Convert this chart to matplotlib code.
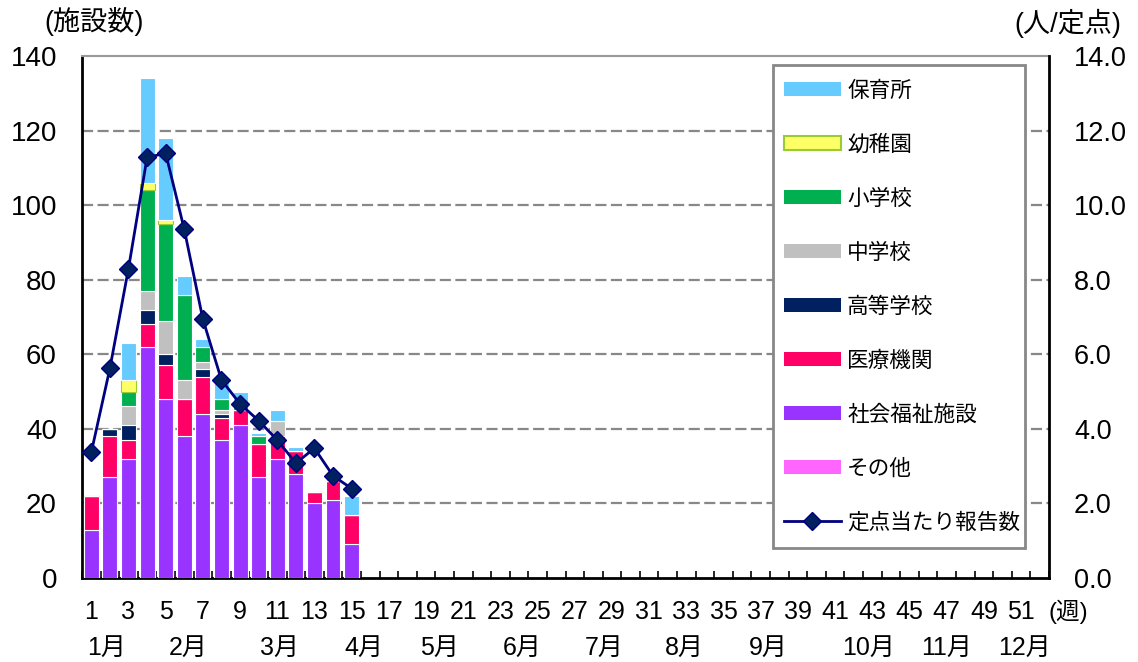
import numpy as np
import matplotlib
matplotlib.use("Agg")
import matplotlib.pyplot as plt
from matplotlib.lines import Line2D
from matplotlib.patches import Patch, Rectangle
from matplotlib.ticker import FormatStrFormatter

plt.rcParams['font.family'] = ['Liberation Sans', 'Noto Sans CJK JP']

# 週ごとの施設数（第1〜15週）
weeks = np.arange(1, 16)
hoikusho = [0, 0, 10, 28, 22, 5, 2, 5, 4, 1, 3, 1, 0, 1, 5]      # 保育所
youchien = [0, 0, 3, 2, 1, 0, 0, 0, 0, 0, 0, 0, 0, 0, 0]         # 幼稚園
shogakko = [0, 0, 4, 27, 26, 23, 4, 3, 1, 2, 0, 0, 0, 0, 0]      # 小学校
chugakko = [0, 0, 5, 5, 9, 5, 2, 1, 0, 0, 4, 0, 0, 0, 0]         # 中学校
koukou = [0, 2, 4, 4, 3, 0, 2, 1, 0, 0, 0, 0, 0, 0, 0]           # 高等学校
iryou = [9, 11, 5, 6, 9, 10, 10, 6, 4, 9, 6, 6, 3, 5, 8]         # 医療機関
fukushi = [13, 27, 32, 62, 48, 38, 44, 37, 41, 27, 32, 28, 20, 21, 9]  # 社会福祉施設
sonota = [0] * 15                                                 # その他

# 定点当たり報告数
teiten = [3.37, 5.62, 8.30, 11.28, 11.39, 9.35, 6.94, 5.31, 4.67, 4.22,
          3.70, 3.08, 3.48, 2.74, 2.40]

week_ticks = list(range(1, 52, 2))
months = ['1月', '2月', '3月', '4月', '5月', '6月', '7月', '8月', '9月',
          '10月', '11月', '12月']
month_pos = [1.8, 6.2, 11.1, 15.65, 19.7, 24.15, 28.6, 32.9, 37.4, 42.8, 47.0, 51.2]

# 積み上げ順（下から）
stack = [
    ('その他', sonota, '#FF66FF', 'white'),
    ('社会福祉施設', fukushi, '#9933FF', 'white'),
    ('医療機関', iryou, '#FF0066', 'white'),
    ('高等学校', koukou, '#002060', 'white'),
    ('中学校', chugakko, '#C0C0C0', 'white'),
    ('小学校', shogakko, '#00B050', 'white'),
    ('幼稚園', youchien, '#FFFF66', '#99CC33'),
    ('保育所', hoikusho, '#66CCFF', 'white'),
]

fig = plt.figure(figsize=(11.38, 6.62), dpi=100)
ax = fig.add_axes([82 / 1138, 84 / 662, 967 / 1138, 522 / 662])

bottom = np.zeros(len(weeks))
for name, vals, color, edge in stack:
    vals = np.array(vals, dtype=float)
    ax.bar(weeks, vals, width=0.8, bottom=bottom, color=color,
           edgecolor=edge, linewidth=0.8, zorder=3)
    bottom += vals

ax.set_xlim(0.5, 52.5)
ax.set_ylim(0, 140)
ax.set_yticks(range(0, 141, 20))
ax.tick_params(axis='y', length=0, labelsize=20, pad=18)
ax.set_xticks(week_ticks)
ax.set_xticks(np.arange(0.5, 53, 1), minor=True)
ax.tick_params(axis='x', which='major', length=0, labelsize=18, pad=16)
ax.tick_params(axis='x', which='minor', direction='in', length=5,
               width=1.2, color='black')
for y in range(20, 140, 20):
    ax.axhline(y, color='#888888', linestyle=(0, (5, 2)), linewidth=1.6, zorder=1)

for s in ['left', 'bottom']:
    ax.spines[s].set_color('black')
    ax.spines[s].set_linewidth(2)
ax.spines['top'].set_color('#999999')
ax.spines['top'].set_linewidth(1.5)
ax.spines['right'].set_visible(False)

for m, p in zip(months, month_pos):
    ax.text(p, -0.134, m, transform=ax.get_xaxis_transform(),
            ha='center', va='center', fontsize=18)
ax.text(53.55, -0.064, '(週)', transform=ax.get_xaxis_transform(),
        ha='center', va='center', fontsize=17, clip_on=False)

ax2 = ax.twinx()
ax2.plot(weeks, teiten, color='#000080', linewidth=2, marker='D',
         markersize=9, markerfacecolor='#002060', markeredgecolor='#000080',
         zorder=5)
ax2.set_ylim(0, 14)
ax2.set_yticks(np.arange(0, 14.1, 2))
ax2.yaxis.set_major_formatter(FormatStrFormatter('%.1f'))
ax2.tick_params(axis='y', length=0, labelsize=19.5, pad=18)
for s in ['left', 'bottom', 'top']:
    ax2.spines[s].set_visible(False)
ax2.spines['right'].set_color('black')
ax2.spines['right'].set_linewidth(2)

fig.text(94 / 1138, 1 - 22 / 662, '(施設数)', ha='center', va='center', fontsize=19.5)
fig.text(1068 / 1138, 1 - 23 / 662, '(人/定点)', ha='center', va='center', fontsize=19.5)

# 凡例の枠
frame = Rectangle((773 / 1138, 1 - 548 / 662), 252 / 1138, 483 / 662,
                  transform=fig.transFigure, facecolor='white',
                  edgecolor='#888888', linewidth=2, zorder=8)
ax2.add_patch(frame)

handles = []
labels = []
for name, vals, color, edge in stack[::-1]:
    lw = 1.5 if name == '幼稚園' else 0
    handles.append(Patch(facecolor=color, edgecolor=edge, linewidth=lw))
    labels.append(name)
handles.append(Line2D([0], [0], color='#000080', linewidth=2, marker='D',
                      markersize=9, markerfacecolor='#002060'))
labels.append('定点当たり報告数')

leg = ax2.legend(handles, labels, loc='upper left',
                 bbox_to_anchor=(784 / 1138, 1 - 81 / 662),
                 bbox_transform=fig.transFigure, borderaxespad=0,
                 borderpad=0, fontsize=15.6, handlelength=2.63,
                 handleheight=0.6, handletextpad=0.28, labelspacing=1.52,
                 frameon=False)
leg.set_zorder(10)

fig.savefig('out.png', dpi=100)
